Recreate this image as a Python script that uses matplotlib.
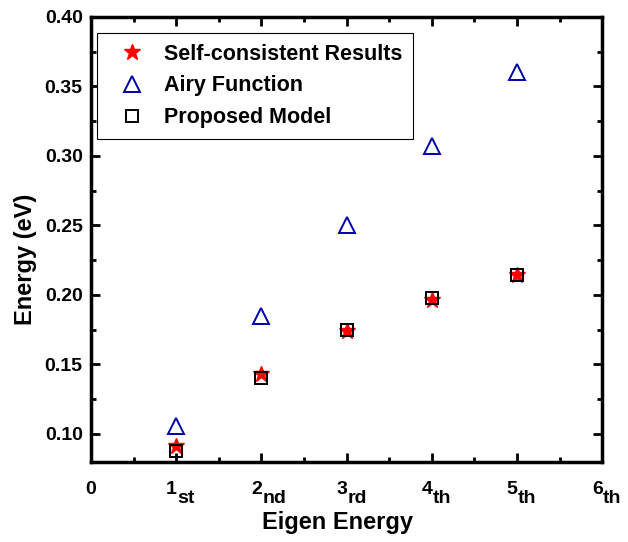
import matplotlib
matplotlib.use('Agg')
import matplotlib.pyplot as plt
from matplotlib.ticker import MultipleLocator, FormatStrFormatter, NullFormatter

# values
levels = [1, 2, 3, 4, 5]
self_consistent = [0.091, 0.143, 0.174, 0.196, 0.214]
airy = [0.106, 0.185, 0.250, 0.307, 0.360]
proposed = [0.088, 0.140, 0.175, 0.198, 0.214]
tick_numbers = ['0', '1', '2', '3', '4', '5', '6']
tick_suffixes = ['', 'st', 'nd', 'rd', 'th', 'th', 'th']

plt.rcParams['font.family'] = ['Liberation Sans', 'DejaVu Sans']
plt.rcParams['font.weight'] = 'bold'

fig = plt.figure(figsize=(6.28, 5.42), dpi=100)
ax = fig.add_axes([0.145, 0.148, 0.814, 0.821])

ax.plot(levels, self_consistent, linestyle='none', marker='*', ms=12,
        color='red', mec='red', label='Self-consistent Results')
ax.plot(levels, airy, linestyle='none', marker='^', ms=11, mfc='none',
        mec='#0000a8', mew=1.4, label='Airy Function')
ax.plot(levels, proposed, linestyle='none', marker='s', ms=8, mfc='none',
        mec='black', mew=1.4, label='Proposed Model')

ax.set_xlim(0, 6)
ax.set_ylim(0.08, 0.40)
ax.set_xticks(range(len(tick_numbers)))
ax.xaxis.set_major_formatter(NullFormatter())
ax.xaxis.set_minor_locator(MultipleLocator(0.5))
ax.yaxis.set_major_locator(MultipleLocator(0.05))
ax.yaxis.set_minor_locator(MultipleLocator(0.025))
ax.yaxis.set_major_formatter(FormatStrFormatter('%.2f'))

# "1st"-style tick labels: digit left of the tick, suffix lowered to the right
xt = ax.get_xaxis_transform()
for i, (num, suf) in enumerate(zip(tick_numbers, tick_suffixes)):
    ax.annotate(num, (i, 0), xycoords=xt, xytext=(0.5 if suf else 0, -23),
                textcoords='offset points', ha='right' if suf else 'center',
                va='baseline', fontsize=14, fontweight='bold')
    if suf:
        ax.annotate(suf, (i, 0), xycoords=xt, xytext=(0.5, -29.5),
                    textcoords='offset points', ha='left', va='baseline',
                    fontsize=14, fontweight='bold')

ax.tick_params(which='both', direction='in', top=True, right=True,
               width=2, labelsize=14)
ax.tick_params(axis='y', pad=6)
ax.tick_params(which='major', length=6.5)
ax.tick_params(which='minor', length=3.6)
for sp in ax.spines.values():
    sp.set_linewidth(2.5)

ax.set_xlabel('Eigen Energy', fontsize=17, fontweight='bold', va='top')
ax.xaxis.set_label_coords(0.482, -0.110)
ax.set_ylabel('Energy (eV)', fontsize=17, fontweight='bold')
ax.yaxis.set_label_coords(-0.106, 0.454)

leg = ax.legend(loc='upper left', bbox_to_anchor=(0.012, 0.964), fontsize=15.5,
                borderaxespad=0, fancybox=False, framealpha=1, edgecolor='black',
                borderpad=0.5, handletextpad=0.4, labelspacing=0.5,
                handlelength=2.2)
leg.get_frame().set_linewidth(0.8)

fig.savefig('out.png', dpi=100)
